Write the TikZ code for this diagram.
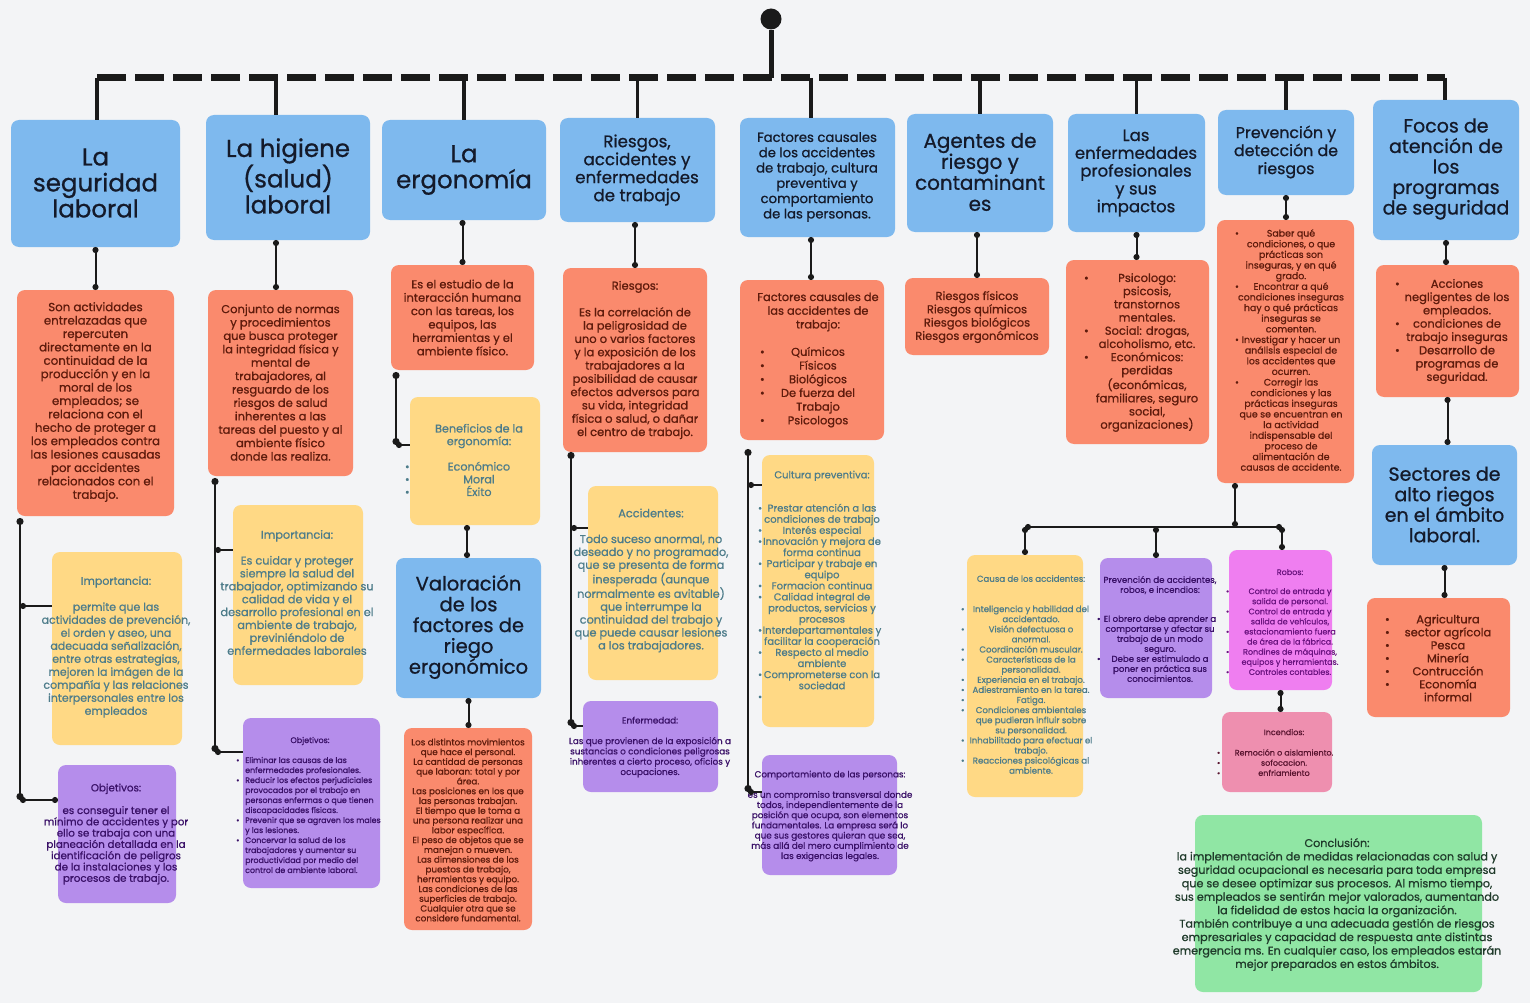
\documentclass[tikz,border=0pt]{standalone}
\usepackage{fontspec}
\setmainfont{Poppins}[FakeBold=0.8]
\usetikzlibrary{arrows.meta}
\definecolor{bg}{HTML}{F3F4F6}
\definecolor{cblue}{HTML}{7EB9EE}
\definecolor{corange}{HTML}{FA8A6D}
\definecolor{cyellow}{HTML}{FFD985}
\definecolor{cpurple}{HTML}{B58DEB}
\definecolor{cmag}{HTML}{EF7EF0}
\definecolor{cpink}{HTML}{EE8FAF}
\definecolor{cgreen}{HTML}{90E6A4}
\definecolor{thdr}{HTML}{141A2A}
\definecolor{tor}{HTML}{5E1B0C}
\definecolor{tye}{HTML}{4D7C8A}
\definecolor{tpu}{HTML}{3A1168}
\definecolor{tmag}{HTML}{6B1380}
\definecolor{tpk}{HTML}{5A1530}
\definecolor{tgr}{HTML}{1F3A2A}
\definecolor{lk}{HTML}{1A1A1A}
\newlength\bw
\newcommand\bl[1]{\makebox[\bw]{\rlap{\textbullet}\hfill#1\hfill}}
\newcommand\bu{\makebox[9pt][l]{\textbullet}}
\newcommand\ind{\hspace*{9pt}}
\newcommand\fz[2]{\fontsize{#1}{#2}\selectfont}
\newcommand\bx[6]{\node[#2,minimum width={(#5-#3)*1pt},minimum height={(#6-#4)*1pt}] (#1) at ({(#3+#5)/2},{(#4+#6)/2}) {};}
\tikzset{
  bw/.code={\global\bw=#1\relax},
  box/.style={rounded corners=8pt,inner sep=0pt,outer sep=0pt,draw=none},
  hb/.style={box,fill=cblue},
  ob/.style={box,fill=corange},
  yb/.style={box,fill=cyellow},
  pb/.style={box,fill=cpurple},
  mb/.style={box,fill=cmag},
  kb/.style={box,fill=cpink},
  gb/.style={box,fill=cgreen},
  tx/.style={align=center,inner sep=0pt},
  ht/.style={tx,text=thdr},
  otx/.style={tx,text=tor},
  ytx/.style={tx,text=tye},
  ptx/.style={tx,text=tpu},
  mtx/.style={tx,text=tmag},
  ktx/.style={tx,text=tpk},
  gtx/.style={tx,text=tgr},
  conn/.style={line width=2pt,draw=lk,arrows={Circle[length=6pt]-Circle[length=6pt]}},
  vl/.style={line width=2.2pt,draw=lk,arrows={Circle[length=7pt]-Circle[length=7pt]}},
  br/.style={line width=2pt,draw=lk,arrows={Circle[length=6pt]-}},
  bar/.style={line width=7pt,draw=lk,dash pattern=on 29pt off 9pt},
  drop/.style={line width=3.5pt,draw=lk},
}
\begin{document}
\begin{tikzpicture}[x=1pt,y=-1pt]
\useasboundingbox (0,0) rectangle (1530,1003);
\fill[bg] (0,0) rectangle (1530,1003);

% ---------- headers ----------
\bx{h1}{hb}{11}{120}{180}{247}
\node[ht,font=\fz{24.5}{26}] (h1t) at (95.5,183) {La\\seguridad\\laboral};
\bx{h2}{hb}{206}{115}{370}{240}
\node[ht,font=\fz{24.5}{26}] (h2t) at (288,176) {La higiene\\(salud)\\laboral};
\bx{h3}{hb}{382}{120}{546}{220}
\node[ht,font=\fz{24.5}{26}] (h3t) at (464,170) {La\\ergonomía};
\bx{h4}{hb}{560}{118}{715}{222}
\node[ht,font=\fz{16.7}{18}] (h4t) at (637,170) {Riesgos,\\accidentes y\\enfermedades\\de trabajo};
\bx{h5}{hb}{740}{118}{895}{237}
\node[ht,font=\fz{13.2}{15.3}] (h5t) at (817,177) {Factores causales\\de los accidentes\\de trabajo, cultura\\preventiva y\\comportamiento\\de las personas.};
\bx{h6}{hb}{907}{114}{1053}{232}
\node[ht,font=\fz{19.9}{21}] (h6t) at (980,172) {Agentes de\\riesgo y\\contaminant\\es};
\bx{h7}{hb}{1068}{114}{1205}{232}
\node[ht,font=\fz{16.5}{17.8}] (h7t) at (1136,173) {Las\\enfermedades\\profesionales\\y sus\\impactos};
\bx{h8}{hb}{1218}{110}{1354}{195}
\node[ht,font=\fz{15.8}{18}] (h8t) at (1286,152) {Prevención y\\detección de\\riesgos};
\bx{h9}{hb}{1373}{100}{1519}{240}
\node[ht,font=\fz{19}{20.5}] (h9t) at (1446,169) {Focos de\\atención de\\los\\programas\\de seguridad};

% ---------- top tree ----------
\node[circle,fill=lk,minimum size=21pt,inner sep=0pt] (root) at (771,19) {};
\coordinate (barL) at (97,78);
\coordinate (barR) at (1445,78);
\coordinate (x2) at (276,0);
\draw[line width=5pt,draw=lk] (root) -- (root |- barL);
\draw[bar] (barL) -- (barR);
\draw[drop] (barL) -- (barL |- h1.north);
\draw[drop] (x2 |- barL) -- (x2 |- h2.north);
\draw[drop] (h3.north |- barL) -- (h3.north);
\draw[drop] (h4.north |- barL) -- (h4.north);
\coordinate (x5) at (811,0);
\draw[drop] (x5 |- barL) -- (x5 |- h5.north);
\draw[drop] (h6.north |- barL) -- (h6.north);
\draw[drop] (h7.north |- barL) -- (h7.north);
\draw[drop] (h8.north |- barL) -- (h8.north);
\draw[drop] (barR) -- (barR |- h9.north);

% ---------- column 1 ----------
\bx{o1}{ob}{17}{290}{174}{516}
\node[otx,font=\fz{11.8}{13.4}] (o1t) at (95.5,402) {Son actividades\\entrelazadas que\\repercuten\\directamente en la\\continuidad de la\\producción y en la\\moral de los\\empleados; se\\relaciona con el\\hecho de proteger a\\los empleados contra\\las lesiones causadas\\por accidentes\\relacionados con el\\trabajo.};
\bx{y1}{yb}{52}{552}{182}{745}
\node[ytx,font=\fz{11}{13}] (y1t) at (116,647) {Importancia:\\[13pt]permite que las\\actividades de prevención,\\el orden y aseo, una\\adecuada señalización,\\entre otras estrategias,\\mejoren la imágen de la\\compañía y las relaciones\\interpersonales entre los\\empleados};
\bx{p1}{pb}{58}{765}{176}{903}
\node[ptx,font=\fz{10.3}{11.3}] (p1t) at (116,834) {Objetivos:\\[11.3pt]es conseguir tener el\\mínimo de accidentes y por\\ello se trabaja con una\\planeación detallada en la\\identificación de peligros\\de la instalaciones y los\\procesos de trabajo.};
\draw[conn] (h1.south) -- (o1.north);
\coordinate (j1a) at (20,518);
\coordinate (j1b) at (20,606);
\coordinate (j1c) at (20,800);
\draw[vl] (j1a) -- (j1c);
\draw[br] (j1b) -- (j1b -| y1.west);
\draw[conn] (j1c) -- (j1c -| p1.west);

% ---------- column 2 ----------
\bx{o2}{ob}{208}{290}{353}{476}
\node[otx,font=\fz{11.5}{13.4}] (o2t) at (280.5,382.5) {Conjunto de normas\\y procedimientos\\que busca proteger\\la integridad física y\\mental de\\trabajadores, al\\resguardo de los\\riesgos de salud\\inherentes a las\\tareas del puesto y al\\ambiente físico\\donde las realiza.};
\bx{y2}{yb}{233}{505}{363}{685}
\node[ytx,font=\fz{11.3}{12.9}] (y2t) at (297,592.5) {Importancia:\\[12.9pt]Es cuidar y proteger\\siempre la salud del\\trabajador, optimizando su\\calidad de vida y el\\desarrollo profesional en el\\ambiente de trabajo,\\previniéndolo de\\enfermedades laborales};
\bx{p2}{pb}{243}{718}{380}{888}
\node[ptx,font=\fz{8}{10}] (p2h) at (310,741) {Objetivos:};
\node[ptx,align=left,anchor=west,font=\fz{7.9}{10}] (p2t) at (236,815) {\bu Eliminar las causas de las\\\ind enfermedades profesionales.\\\bu Reducir los efectos perjudiciales\\\ind provocados por el trabajo en\\\ind personas enfermas o que tienen\\\ind discapacidades físicas.\\\bu Prevenir que se agraven los males\\\ind y las lesiones.\\\bu Concervar la salud de los\\\ind trabajadores y aumentar su\\\ind productividad por medio del\\\ind control de ambiente laboral.};
\draw[conn] (x2 |- h2.south) -- (x2 |- o2.north);
\coordinate (j2a) at (215,478);
\coordinate (j2b) at (215,550);
\coordinate (j2c) at (215,752);
\draw[vl] (j2a) -- (j2c);
\draw[br] (j2b) -- (j2b -| y2.west);
\draw[br] (j2c) -- (j2c -| p2.west);

% ---------- column 3 ----------
\bx{o3}{ob}{391}{265}{534}{370}
\node[otx,font=\fz{11.5}{13.4}] (o3t) at (462.5,317.5) {Es el estudio de la\\interacción humana\\con las tareas, los\\equipos, las\\herramientas y el\\ambiente físico.};
\bx{y3}{yb}{410}{397}{540}{525}
\node[ytx,bw=148pt,font=\fz{11.2}{12.7}] (y3t) at (479,460) {Beneficios de la\\ergonomía:\\[12.7pt]\bl{Económico}\\\bl{Moral}\\\bl{Éxito}};
\bx{v}{hb}{396}{558}{541}{698}
\node[ht,font=\fz{19.5}{20.8}] (vt) at (468.5,627) {Valoración\\de los\\factores de\\riego\\ergonómico};
\bx{o3b}{ob}{404}{728}{532}{930}
\node[otx,font=\fz{8.8}{9.78}] (o3bt) at (468,830) {Los distintos movimientos\\que hace el personal.\\La cantidad de personas\\que laboran: total y por\\área.\\Las posiciones en los que\\las personas trabajan.\\El tiempo que le toma a\\una persona realizar una\\labor específica.\\El peso de objetos que se\\manejan o mueven.\\Las dimensiones de los\\puestos de trabajo,\\herramientas y equipo.\\Las condiciones de las\\superficies de trabajo.\\Cualquier otra que se\\considere fundamental.};
\draw[conn] (h3.south -| o3.north) -- (o3.north);
\coordinate (j3a) at (396,372);
\coordinate (j3b) at (396,445);
\draw[vl] (j3a) -- (j3b);
\draw[br] (j3b) -- (j3b -| y3.west);
\coordinate (x3) at (467,0);
\draw[conn] (x3 |- y3.south) -- (x3 |- v.north);
\draw[conn] (v.south) -- (v.south |- o3b.north);

% ---------- column 4 ----------
\bx{o4}{ob}{563}{268}{707}{452}
\node[otx,font=\fz{11.5}{13.3}] (o4t) at (635,360) {Riesgos:\\[13.3pt]Es la correlación de\\la peligrosidad de\\uno o varios factores\\y la exposición de los\\trabajadores a la\\posibilidad de causar\\efectos adversos para\\su vida, integridad\\física o salud, o dañar\\el centro de trabajo.};
\bx{y4}{yb}{588}{486}{718}{680}
\node[ytx,font=\fz{11.3}{12.9}] (y4t) at (651,580.5) {Accidentes:\\[12.9pt]Todo suceso anormal, no\\deseado y no programado,\\que se presenta de forma\\inesperada (aunque\\normalmente es avitable)\\que interrumpe la\\continuidad del trabajo y\\que puede causar lesiones\\a los trabajadores.};
\bx{p4}{pb}{583}{701}{718}{792}
\node[ptx,font=\fz{8.8}{10.3}] (p4t) at (650,747) {Enfermedad:\\[10.3pt]Las que provienen de la exposición a\\sustancias o condiciones peligrosas\\inherentes a cierto proceso, oficios y\\ocupaciones.};
\draw[conn] (h4.south -| o4.north) -- (o4.north);
\coordinate (j4a) at (571,452);
\coordinate (j4b) at (571,528);
\coordinate (j4c) at (571,726);
\draw[vl] (j4a) -- (j4c);
\draw[br] (j4b) -- (j4b -| y4.west);
\draw[br] (j4c) -- (j4c -| p4.west);

% ---------- column 5 ----------
\bx{o5}{ob}{740}{280}{884}{440}
\node[otx,bw=116pt,font=\fz{11.4}{13.7}] (o5t) at (818,360) {Factores causales de\\las accidentes de\\trabajo:\\[13.7pt]\bl{Químicos}\\\bl{Físicos}\\\bl{Biológicos}\\\bl{De fuerza del}\\Trabajo\\\bl{Psicologos}};
\bx{y5}{yb}{762}{455}{874}{727}
\node[ytx,bw=128pt,font=\fz{10}{11.1}] (y5t) at (822,585.5) {Cultura preventiva:\\[22.2pt]\bl{Prestar atención a las}\\condiciones de trabajo\\\bl{Interés especial}\\\bl{Innovación y mejora de}\\forma continua\\\bl{Participar y trabaje en}\\equipo\\\bl{Formacion continua}\\\bl{Calidad integral de}\\productos, servicios y\\procesos\\\bl{Interdepartamentales y}\\facilitar la cooperación\\\bl{Respecto al medio}\\ambiente\\\bl{Comprometerse con la}\\sociedad\\\bl{}};
\bx{p5}{pb}{762}{755}{897}{875}
\node[ptx,font=\fz{8.8}{10.2}] (p5t) at (830,816) {Comportamiento de las personas:\\[10.2pt]es un compromiso transversal donde\\todos, independientemente de la\\posición que ocupa, son elementos\\fundamentales. La empresa será lo\\que sus gestores quieran que sea,\\más allá del mero cumplimiento de\\las exigencias legales.};
\draw[conn] (x5 |- h5.south) -- (x5 |- o5.north);
\coordinate (j5a) at (748,449);
\coordinate (j5b) at (748,485);
\coordinate (j5c) at (748,792);
\draw[vl] (j5a) -- (j5c);
\draw[br] (j5b) -- (j5b -| y5.west);
\draw[br] (j5c) -- (j5c -| p5.west);

% ---------- column 6 ----------
\bx{o6}{ob}{905}{278}{1049}{355}
\node[otx,font=\fz{11.5}{13.3}] (o6t) at (977,317) {Riesgos físicos\\Riesgos químicos\\Riesgos biológicos\\Riesgos ergonómicos};
\draw[conn] (h6.south -| o6.north) -- (o6.north);

% ---------- column 7 ----------
\bx{o7}{ob}{1066}{260}{1209}{444}
\node[otx,bw=126pt,font=\fz{11.5}{13.2}] (o7t) at (1147,352.5) {\bl{Psicologo:}\\psicosis,\\transtornos\\mentales.\\\bl{Social: drogas,}\\alcoholismo, etc.\\\bl{Económicos:}\\perdidas\\(económicas,\\familiares, seguro\\social,\\organizaciones)};
\draw[conn] (h7.south) -- (h7.south |- o7.north);

% ---------- column 8 ----------
\bx{o8}{ob}{1217}{220}{1354}{483}
\node[otx,bw=112pt,font=\fz{9.4}{10.64}] (o8t) at (1291,350) {\bl{Saber qué}\\condiciones, o que\\prácticas son\\inseguras, y en qué\\grado.\\\bl{Encontrar a qué}\\condiciones inseguras\\hay o qué prácticas\\inseguras se\\comenten.\\\bl{Investigar y hacer un}\\análisis especial de\\los accidentes que\\ocurren.\\\bl{Corregir las}\\condiciones y las\\prácticas inseguras\\que se encuentran en\\la actividad\\indispensable del\\proceso de\\alimentación de\\causas de accidente.};
\draw[conn] (h8.south) -- (h8.south |- o8.north);
\bx{y8}{yb}{967}{555}{1083}{797}
\node[ytx,bw=140pt,font=\fz{8.6}{10.1}] (y8t) at (1031,674.5) {Causa de los accidentes:\\[20.2pt]\bl{Inteligencia y habilidad del}\\accidentado.\\\bl{Visión defectuosa o}\\anormal.\\\bl{Coordinación muscular.}\\\bl{Características de la}\\personalidad.\\\bl{Experiencia en el trabajo.}\\\bl{Adiestramiento en la tarea.}\\\bl{Fatiga.}\\\bl{Condiciones ambientales}\\que pudieran influir sobre\\su personalidad.\\\bl{Inhabilitado para efectuar el}\\trabajo.\\\bl{Reacciones psicológicas al}\\ambiente.};
\bx{p8}{pb}{1100}{558}{1212}{698}
\node[ptx,bw=126pt,font=\fz{8.6}{10}] (p8t) at (1160,629) {Prevención de accidentes,\\robos, e incendios:\\[19pt]\bl{El obrero debe aprender a}\\comportarse y afectar su\\trabajo de un modo\\seguro.\\\bl{Debe ser estimulado a}\\poner en práctica sus\\conocimientos.};
\bx{r8}{mb}{1229}{550}{1332}{690}
\node[mtx,bw=128pt,font=\fz{8}{10.1}] (r8t) at (1290,622) {Robos:\\[9pt]\bl{Control de entrada y}\\salida de personal.\\\bl{Control de entrada y}\\salida de vehículos,\\\bl{estacionamiento fuera}\\de área de la fábrica.\\\bl{Rondines de máquinas,}\\equipos y herramientas.\\\bl{Controles contables.}};
\bx{i8}{kb}{1222}{712}{1332}{792}
\node[ktx,bw=134pt,font=\fz{8}{10.2}] (i8t) at (1284,752.5) {Incendios:\\[10.2pt]\bl{Remoción o aislamiento.}\\\bl{sofocacion.}\\\bl{enfriamiento}};
\coordinate (t8) at (1235,527);
\coordinate (t8l) at (1025,527);
\coordinate (t8r) at (1282,527);
\draw[conn] (t8 |- o8.south) -- (t8);
\draw[conn] (t8l) -- (t8r);
\draw[conn] (t8l) -- (t8l |- y8.north);
\draw[conn] (p8.north |- t8) -- (p8.north);
\draw[conn] (t8r) -- (t8r |- r8.north);
\draw[conn] (r8.south) -- (r8.south |- i8.north);

% ---------- column 9 ----------
\bx{o9}{ob}{1376}{265}{1519}{397}
\node[otx,bw=124pt,font=\fz{11.5}{13.3}] (o9t) at (1457,331.5) {\bl{Acciones}\\negligentes de los\\empleados.\\\bl{condiciones de}\\trabajo inseguras\\\bl{Desarrollo de}\\programas de\\seguridad.};
\bx{s}{hb}{1372}{445}{1517}{565}
\node[ht,font=\fz{19}{20.5}] (st) at (1444.5,504.5) {Sectores de\\alto riegos\\en el ámbito\\laboral.};
\bx{o9b}{ob}{1367}{598}{1510}{717}
\node[otx,bw=126pt,font=\fz{11.5}{13}] (o9bt) at (1448,658) {\bl{Agricultura}\\\bl{sector agrícola}\\\bl{Pesca}\\\bl{Minería}\\\bl{Contrucción}\\\bl{Economía}\\informal};
\draw[conn] (h9.south) -- (h9.south |- o9.north);
\draw[conn] (o9.south) -- (o9.south |- s.north);
\draw[conn] (s.south) -- (s.south |- o9b.north);

% ---------- conclusion ----------
\bx{g}{gb}{1195}{815}{1482}{992}
\node[gtx,font=\fz{11.2}{13.44}] (gtext) at (1337,904.5) {Conclusión:\\la implementación de medidas relacionadas con salud y\\seguridad ocupacional es necesaria para toda empresa\\que se desee optimizar sus procesos. Al mismo tiempo,\\sus empleados se sentirán mejor valorados, aumentando\\la fidelidad de estos hacia la organización.\\También contribuye a una adecuada gestión de riesgos\\empresariales y capacidad de respuesta ante distintas\\emergencia ms. En cualquier caso, los empleados estarán\\mejor preparados en estos ámbitos.};
\end{tikzpicture}
\end{document}
